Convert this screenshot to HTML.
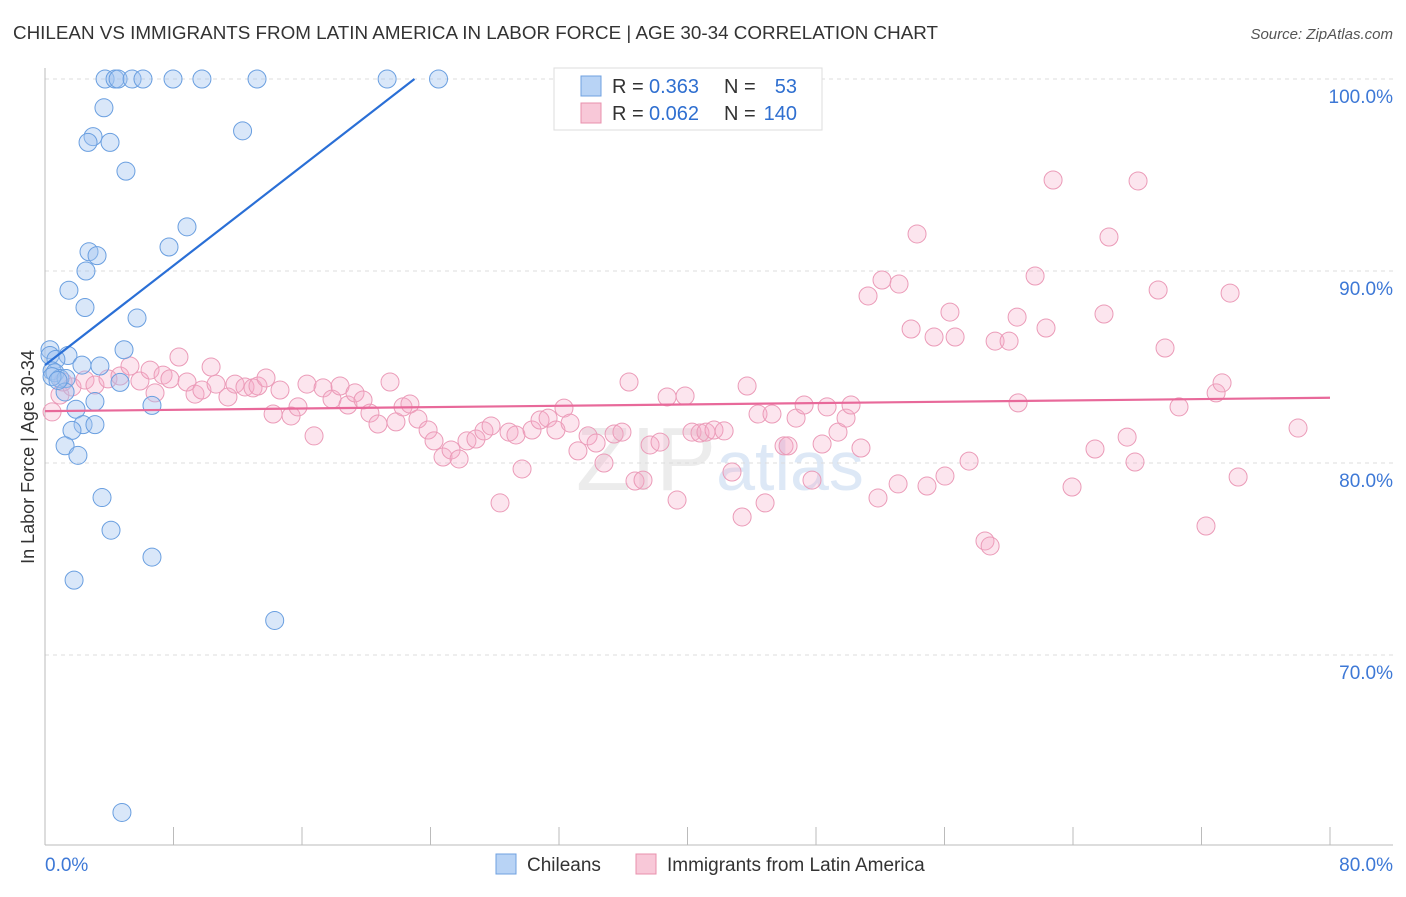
<!DOCTYPE html>
<html><head><meta charset="utf-8"><style>
body{margin:0;background:#fff;font-family:"Liberation Sans",sans-serif;}
svg text{font-family:"Liberation Sans",sans-serif;}
</style></head><body>
<svg id="c" width="1406" height="892">
<text x="13" y="39" font-size="18" fill="#333" textLength="925" lengthAdjust="spacingAndGlyphs">CHILEAN VS IMMIGRANTS FROM LATIN AMERICA IN LABOR FORCE | AGE 30-34 CORRELATION CHART</text>
<text x="1393" y="39" font-size="15" fill="#555" font-style="italic" text-anchor="end">Source: ZipAtlas.com</text>
<text x="34" y="457" font-size="18" fill="#333" text-anchor="middle" transform="rotate(-90 34 457)">In Labor Force | Age 30-34</text>
<text x="720" y="490" font-size="90" fill="#ececec" font-family="Liberation Serif" text-anchor="middle">ZIP<tspan fill="#dde8f6" font-family="Liberation Sans" font-size="70">atlas</tspan></text>
<g id="grid"></g><g id="pts"></g><g id="lines"></g>
<g>
<rect x="554" y="68" width="268" height="62" fill="#fff" stroke="#ddd"/>
<rect x="581" y="76" width="20" height="20" fill="#b8d3f5" stroke="#6fa0e0"/>
<rect x="581" y="103" width="20" height="20" fill="#f8c8d8" stroke="#e890ad"/>
<text x="612" y="93" font-size="20" fill="#333">R =</text>
<text x="649" y="93" font-size="20" fill="#2f6fd0">0.363</text>
<text x="724" y="93" font-size="20" fill="#333">N =</text>
<text x="797" y="93" font-size="20" fill="#2f6fd0" text-anchor="end">53</text>
<text x="612" y="120" font-size="20" fill="#333">R =</text>
<text x="649" y="120" font-size="20" fill="#2f6fd0">0.062</text>
<text x="724" y="120" font-size="20" fill="#333">N =</text>
<text x="797" y="120" font-size="20" fill="#2f6fd0" text-anchor="end">140</text>
</g>
<g>
<rect x="496" y="854" width="20" height="20" fill="#b8d3f5" stroke="#6fa0e0"/>
<text x="527" y="871" font-size="19" fill="#333">Chileans</text>
<rect x="636" y="854" width="20" height="20" fill="#f8c8d8" stroke="#e890ad"/>
<text x="667" y="871" font-size="19" fill="#333">Immigrants from Latin America</text>
</g>
</svg>
<script>
const yTicks=[100,90,80,70];
const yTickLabels=["100.0%","90.0%","80.0%","70.0%"];
const xTicks=[0,8,16,24,32,40,48,56,64,72,80];
const blueX=[3.74,4.36,4.55,5.42,6.10,7.97,9.77,13.2,21.3,24.5,3.67,2.99,2.68,4.05,5.04,12.3,8.84,7.72,2.74,3.24,2.55,1.49,2.49,5.73,4.92,0.31,0.31,1.43,0.68,2.30,3.42,0.44,0.62,0.93,1.31,4.67,0.44,1.25,3.11,6.66,1.93,2.37,3.11,1.68,1.25,2.05,3.55,4.11,6.66,1.81,14.3,4.79,0.81];
const blueY=[100,100,100,100,100,100,100,100,100,100,98.5,97.0,96.7,96.7,95.2,97.3,92.3,91.25,91.0,90.8,90.0,89.0,88.1,87.55,85.9,85.9,85.6,85.6,85.4,85.1,85.05,84.8,84.7,84.4,84.4,84.2,84.5,83.7,83.2,83.0,82.8,82.0,82.0,81.7,80.9,80.4,78.2,76.5,75.1,73.9,71.8,61.8,84.3];
const pinkX=[0.44,0.93,1.12,1.68,2.49,3.11,3.92,4.67,5.29,5.91,6.54,6.85,7.35,7.78,8.34,8.84,9.34,9.77,10.34,10.65,11.39,11.83,12.45,12.95,13.26,13.76,14.20,14.63,15.32,15.75,16.31,16.75,17.31,17.87,18.37,18.86,19.30,19.80,20.23,20.73,21.48,21.85,22.29,22.72,23.22,23.85,24.22,24.78,25.28,25.78,26.27,26.83,27.33,27.77,28.33,28.89,29.32,29.70,30.32,30.82,31.32,31.81,32.31,32.69,33.18,33.81,34.31,34.80,35.43,35.92,36.36,36.73,37.23,37.67,38.29,38.73,39.35,39.85,40.28,40.78,41.15,41.65,42.28,42.77,43.40,43.71,44.39,44.83,45.26,46.01,46.26,46.76,47.26,47.75,48.38,48.69,49.37,49.87,50.18,50.80,51.24,51.86,52.11,53.11,53.17,53.92,54.29,54.91,55.35,56.03,56.34,56.66,57.53,58.52,58.84,59.15,60.02,60.52,60.58,61.64,62.32,62.76,63.94,65.37,65.93,66.24,67.37,67.86,68.05,69.30,69.73,70.60,72.28,72.91,73.28,73.78,74.28,78.01];
const pinkY=[82.66,83.54,84.22,83.96,84.32,84.06,84.38,84.53,85.05,84.27,84.84,83.65,84.58,84.38,85.52,84.22,83.59,83.80,85.0,84.11,83.44,84.11,83.96,83.91,84.01,84.43,82.55,83.80,82.45,82.92,84.11,81.41,83.91,83.33,84.01,83.02,83.65,83.28,82.60,82.03,84.22,82.14,82.92,83.07,82.29,81.72,81.15,80.31,80.68,80.21,81.15,81.25,81.67,81.93,77.92,81.61,81.46,79.69,81.72,82.24,82.34,81.72,82.86,82.08,80.63,81.41,81.04,80.0,81.51,81.61,84.22,79.06,79.11,80.94,81.09,83.44,78.07,83.49,81.61,81.56,81.61,81.72,81.67,79.53,77.19,84.01,82.55,77.92,82.55,80.89,80.89,82.34,83.02,79.11,80.99,82.92,81.61,82.34,83.02,80.78,88.70,78.18,89.53,78.91,89.32,86.98,91.93,78.80,86.56,79.32,87.86,86.56,80.10,75.94,75.68,86.35,86.35,87.60,83.13,89.74,87.03,94.74,78.75,80.73,87.76,91.77,81.35,80.05,94.69,89.01,85.99,82.92,76.72,83.65,84.17,88.85,79.27,81.82];
const blueTrend=[0,85.1,23.0,100];
const pinkTrend=[0,82.7,80,83.4];
const sx=v=>45+v*1285/80;
const sy=v=>79+(100-v)*19.2;
const NS='http://www.w3.org/2000/svg';
function mk(t,a,p){const e=document.createElementNS(NS,t);for(const k in a)e.setAttribute(k,a[k]);p.appendChild(e);return e;}
const g=document.getElementById('grid');
yTicks.forEach((t,i)=>{
 const l=mk('line',{x1:45,x2:1393,y1:sy(t),y2:sy(t),stroke:'#ddd','stroke-dasharray':'4,4'},g);
 
 
 const tx=mk('text',{x:1393,y:sy(t)+24,'text-anchor':'end','font-size':19,fill:'#3d78d6'},g);
 tx.textContent=yTickLabels[i];
 
 
});
mk('line',{x1:45,x2:45,y1:68,y2:845,stroke:'#bbb'},g);
mk('line',{x1:45,x2:1393,y1:845,y2:845,stroke:'#bbb'},g);
xTicks.forEach(t=>{
 const l=mk('line',{x1:sx(t),x2:sx(t),y1:827,y2:845,stroke:'#bbb'},g);
 
 
});
const xl=mk('text',{x:45,y:871,'font-size':19,fill:'#3d78d6'},g);xl.textContent='0.0%';


const xr=mk('text',{x:1393,y:871,'font-size':19,fill:'#3d78d6','text-anchor':'end'},g);xr.textContent='80.0%';


const p=document.getElementById('pts');
pinkX.forEach((x,i)=>{
 const c=mk('circle',{cx:sx(x),cy:sy(pinkY[i]),r:9,fill:'rgba(245,170,198,0.3)',stroke:'#eb9bb8','stroke-width':1},p);
 
 
});
blueX.forEach((x,i)=>{
 const c=mk('circle',{cx:sx(x),cy:sy(blueY[i]),r:9,fill:'rgba(160,196,240,0.4)',stroke:'#6a9fe0','stroke-width':1},p);
 
 
});
const L=document.getElementById('lines');
const bl=mk('line',{x1:sx(blueTrend[0]),y1:sy(blueTrend[1]),x2:sx(blueTrend[2]),y2:sy(blueTrend[3]),stroke:'#2a6fd6','stroke-width':2.2},L);


const pl=mk('line',{x1:sx(pinkTrend[0]),y1:sy(pinkTrend[1]),x2:sx(pinkTrend[2]),y2:sy(pinkTrend[3]),stroke:'#e8699a','stroke-width':2.2},L);


</script>
</body></html>
